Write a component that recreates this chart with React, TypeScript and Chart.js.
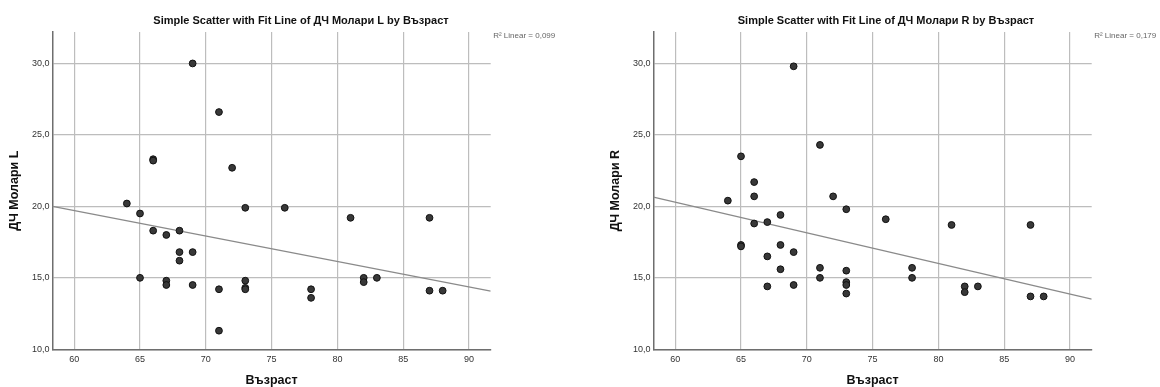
import React, { useEffect, useRef } from "react";
import { Chart, registerables } from "chart.js";

Chart.register(...registerables);

// ---- Data ----
const ageL = [69, 71, 66, 66, 72, 64, 65, 66, 67, 68, 68, 68, 69, 65, 67, 67, 69, 71, 71, 73, 73, 73, 73, 76, 81, 87, 78, 78, 82, 82, 83, 87, 88];
const molarL = [30.0, 26.6, 23.3, 23.2, 22.7, 20.2, 19.5, 18.3, 18.0, 18.3, 16.8, 16.2, 16.8, 15.0, 14.8, 14.5, 14.5, 14.2, 11.3, 19.9, 14.8, 14.3, 14.2, 19.9, 19.2, 19.2, 14.2, 13.6, 15.0, 14.7, 15.0, 14.1, 14.1];

const ageR = [69, 71, 65, 66, 66, 72, 64, 73, 68, 66, 67, 65, 65, 68, 69, 67, 68, 71, 71, 73, 73, 73, 73, 67, 69, 76, 81, 87, 78, 78, 82, 82, 83, 87, 88];
const molarR = [29.8, 24.3, 23.5, 21.7, 20.7, 20.7, 20.4, 19.8, 19.4, 18.8, 18.9, 17.3, 17.2, 17.3, 16.8, 16.5, 15.6, 15.7, 15.0, 15.5, 14.7, 14.5, 13.9, 14.4, 14.5, 19.1, 18.7, 18.7, 15.7, 15.0, 14.4, 14.0, 14.4, 13.7, 13.7];

// Fit line endpoints (at the x-axis limits)
const fitX = [58.35, 91.65];
const fitL = [20.0, 14.07];
const fitR = [20.65, 13.51];

const xTicks = [60, 65, 70, 75, 80, 85, 90];
const yTicks = [10, 15, 20, 25, 30];
const xRange = [58.35, 91.65];
const yRange = [10, 32.2];

const titleL = "Simple Scatter with Fit Line of ДЧ Молари L by Възраст";
const titleR = "Simple Scatter with Fit Line of ДЧ Молари R by Възраст";
const yLabelL = "ДЧ Молари L";
const yLabelR = "ДЧ Молари R";
const xLabel = "Възраст";
const r2L = "R² Linear = 0,099";
const r2R = "R² Linear = 0,179";

const FONT = "'Liberation Sans', Arial, sans-serif";

type Cfg = {
  ages: number[];
  vals: number[];
  fit: number[];
  title: string;
  yLabel: string;
  r2: string;
  yAxisWidth: number;
  yTitlePad: number;
  rightPad: number;
  titleCenter: number;
};

function ScatterChart({ cfg }: { cfg: Cfg }) {
  const ref = useRef<HTMLCanvasElement | null>(null);
  useEffect(() => {
    if (!ref.current) return;
    const textPlugin = {
      id: "texts",
      afterDraw(chart: any) {
        const ctx = chart.ctx;
        const area = chart.chartArea;
        ctx.save();
        ctx.fillStyle = "#111";
        ctx.font = `bold 11px ${FONT}`;
        ctx.textAlign = "center";
        ctx.textBaseline = "middle";
        ctx.fillText(cfg.title, cfg.titleCenter, 21);
        ctx.fillStyle = "#666";
        ctx.font = `8px ${FONT}`;
        ctx.textAlign = "left";
        ctx.fillText(cfg.r2, area.right + 2.5, 36);
        ctx.restore();
      },
    };
    const chart = new Chart(ref.current, {
      type: "scatter",
      data: {
        datasets: [
          {
            type: "line" as any,
            data: fitX.map((x, i) => ({ x, y: cfg.fit[i] })),
            borderColor: "#8a8a8a",
            borderWidth: 1.2,
            pointRadius: 0,
            fill: false,
            order: 2,
          },
          {
            data: cfg.ages.map((x, i) => ({ x, y: cfg.vals[i] })),
            backgroundColor: "#383838",
            borderColor: "#111",
            borderWidth: 1,
            pointRadius: 3.4,
            order: 1,
          },
        ],
      },
      options: {
        animation: false,
        responsive: false,
        layout: { padding: { top: 32, left: 0, right: cfg.rightPad, bottom: 0 } },
        plugins: { legend: { display: false }, tooltip: { enabled: false }, title: { display: false } },
        scales: {
          x: {
            type: "linear",
            min: xRange[0],
            max: xRange[1],
            afterBuildTicks: (s: any) => {
              s.ticks = xTicks.map((v) => ({ value: v }));
            },
            afterFit: (s: any) => {
              s.height = 37.7;
            },
            grid: { color: "#bdbdbd", lineWidth: 1.2, tickLength: 0, drawTicks: false },
            border: { display: true, color: "#6e6e6e", width: 1.5 },
            ticks: { color: "#333", font: { family: FONT, size: 9 }, padding: 5, maxRotation: 0, callback: (v: any) => String(v) },
            title: { display: true, text: xLabel, color: "#111", font: { family: FONT, size: 12.5, weight: "bold", lineHeight: 1 }, padding: { top: 0, bottom: 0 } },
          },
          y: {
            type: "linear",
            min: yRange[0],
            max: yRange[1],
            afterBuildTicks: (s: any) => {
              s.ticks = yTicks.map((v) => ({ value: v }));
            },
            afterFit: (s: any) => {
              s.width = cfg.yAxisWidth;
            },
            grid: { color: "#bdbdbd", lineWidth: 1.2, tickLength: 0, drawTicks: false },
            border: { display: true, color: "#6e6e6e", width: 1.5 },
            ticks: { color: "#333", font: { family: FONT, size: 9 }, padding: 3, callback: (v: any) => Number(v).toFixed(1).replace(".", ",") },
            title: { display: true, text: cfg.yLabel, color: "#111", font: { family: FONT, size: 12.5, weight: "bold", lineHeight: 1.2 }, padding: { top: cfg.yTitlePad, bottom: 0 } },
          },
        },
      },
      plugins: [textPlugin],
    } as any);
    return () => chart.destroy();
  }, [cfg]);
  return <canvas ref={ref} width={580} height={387} style={{ display: "block", width: 580, height: 387 }} />;
}

const cfgL: Cfg = { ages: ageL, vals: molarL, fit: fitL, title: titleL, yLabel: yLabelL, r2: r2L, yAxisWidth: 52.5, yTitlePad: 7.5, rightPad: 89.3, titleCenter: 301 };
const cfgR: Cfg = { ages: ageR, vals: molarR, fit: fitR, title: titleR, yLabel: yLabelR, r2: r2R, yAxisWidth: 73.5, yTitlePad: 28.5, rightPad: 68.3, titleCenter: 306 };

export default function App() {
  return (
    <div style={{ position: "absolute", left: 0, top: 0, width: 1160, height: 387, background: "#fff", display: "flex" }}>
      <ScatterChart cfg={cfgL} />
      <ScatterChart cfg={cfgR} />
    </div>
  );
}
